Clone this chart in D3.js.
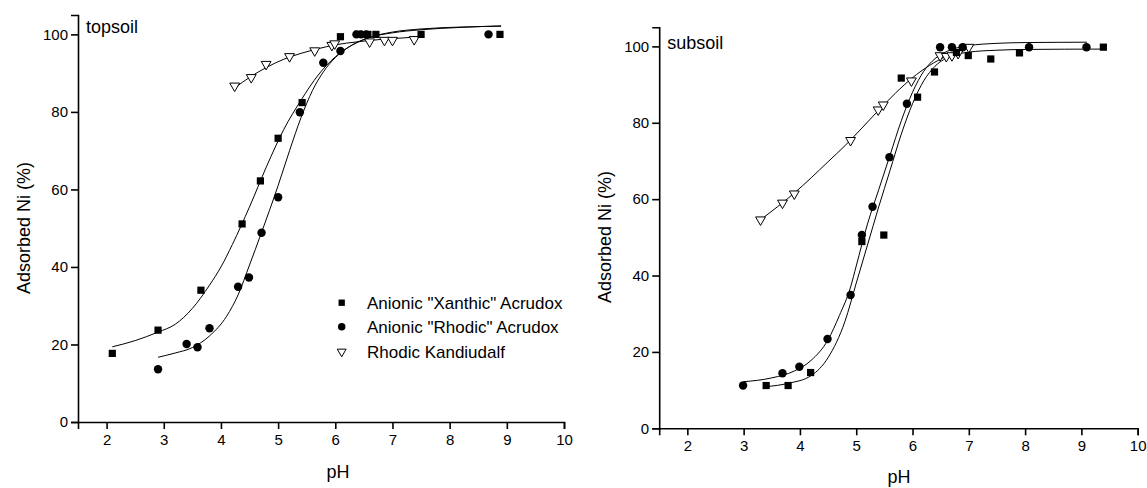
<!DOCTYPE html>
<html><head><meta charset="utf-8">
<script src="https://cdn.jsdelivr.net/npm/d3@7"></script>
<style>
body{margin:0;background:#fff;}
text{font-family:"Liberation Sans",Arial,sans-serif;fill:#000;}
</style></head>
<body><svg id="c" width="1147" height="488"></svg>
<script>
// ---- data ----
const seriesNames = ['Anionic "Xanthic" Acrudox', 'Anionic "Rhodic" Acrudox', 'Rhodic Kandiudalf'];
const xTicks = [2,3,4,5,6,7,8,9,10];
const yTicks = [0,20,40,60,80,100];

// topsoil
const topXanX = [2.1, 2.9, 3.65, 4.37, 4.69, 5.0, 5.42, 6.09, 6.39, 6.57, 6.71, 7.5, 8.88];
const topXanY = [17.7, 23.7, 34.0, 51.1, 62.2, 73.2, 82.4, 99.4, 100, 100, 100, 100, 100];
const topRhoX = [2.9, 3.4, 3.59, 3.8, 4.3, 4.49, 4.71, 5.0, 5.38, 5.79, 6.09, 6.37, 6.45, 6.54, 8.68];
const topRhoY = [13.6, 20.1, 19.3, 24.2, 34.9, 37.3, 48.8, 58.0, 79.9, 92.7, 95.7, 100, 100, 100, 100];
const topKanX = [4.24, 4.53, 4.79, 5.2, 5.64, 5.94, 5.99, 6.6, 6.86, 7.0, 7.38];
const topKanY = [86.7, 88.9, 92.3, 94.3, 95.8, 97.2, 97.6, 98.1, 98.5, 98.5, 98.7];
// fitted curves
const topXanFitX = [2.1, 2.5, 2.9, 3.2, 3.5, 3.8, 4.0, 4.2, 4.5, 4.8, 5.1, 5.4, 5.7, 6.0, 6.3, 6.6, 7.0, 7.5, 8.2, 8.9];
const topXanFitY = [19.4, 21, 23.2, 25.2, 29.3, 35.3, 40, 45.8, 55.5, 66, 75.5, 83, 89.5, 94.2, 97.3, 99.2, 100.6, 101.4, 101.9, 102.1];
const topRhoFitX = [2.9, 3.2, 3.5, 3.8, 4.1, 4.3, 4.5, 4.7, 5.0, 5.2, 5.4, 5.6, 5.8, 6.0, 6.3, 6.6, 7.0, 7.5, 8.2, 8.9];
const topRhoFitY = [16.7, 17.8, 19.2, 22.2, 27.3, 32.8, 40.5, 48.5, 61, 70, 78.5, 85.5, 90.5, 94, 97.3, 99.2, 100.4, 101.2, 101.8, 102.2];
const topKanFitX = [4.25, 4.5, 4.8, 5.1, 5.4, 5.7, 6.0, 6.4, 6.8, 7.2, 7.5];
const topKanFitY = [86.3, 88.9, 91.5, 93.6, 95.1, 96.3, 97.3, 98.1, 98.7, 99.1, 99.4];

// subsoil
const subXanX = [3.4, 3.79, 4.19, 5.1, 5.49, 5.8, 6.09, 6.39, 6.78, 6.99, 7.39, 7.9, 9.39];
const subXanY = [11.2, 11.2, 14.6, 48.9, 50.6, 91.7, 86.7, 93.3, 98.4, 97.6, 96.7, 98.3, 99.8];
const subRhoX = [2.99, 3.69, 3.99, 4.49, 4.9, 5.1, 5.29, 5.59, 5.9, 6.49, 6.7, 6.89, 8.07, 9.09];
const subRhoY = [11.2, 14.4, 16.1, 23.4, 34.9, 50.6, 58.0, 71.0, 85.0, 99.8, 99.8, 99.8, 99.8, 99.8];
const subKanX = [3.3, 3.69, 3.9, 4.9, 5.39, 5.48, 5.98, 6.49, 6.6, 6.7, 6.81, 7.0];
const subKanY = [54.6, 59.0, 61.4, 75.4, 83.4, 84.7, 91.0, 97.6, 97.4, 97.6, 98.2, 99.8];
const subXanFitX = [3.4, 3.8, 4.2, 4.5, 4.8, 5.0, 5.2, 5.4, 5.6, 5.8, 6.0, 6.2, 6.4, 6.7, 7.0, 7.5, 8.0, 9.4];
const subXanFitY = [10.9, 11.8, 13.8, 18.5, 28, 38, 48, 58, 67.5, 77, 85, 91, 94.8, 97.5, 98.5, 99, 99.2, 99.3];
const subRhoFitX = [3.0, 3.5, 3.9, 4.2, 4.5, 4.7, 4.9, 5.0, 5.2, 5.4, 5.6, 5.8, 6.0, 6.2, 6.4, 6.7, 7.0, 7.5, 8.0, 9.1];
const subRhoFitY = [12.2, 13.2, 15.0, 17.8, 23.2, 29.5, 37, 42.5, 53.5, 62.5, 71.5, 80.5, 88, 93.5, 96.8, 99.2, 100.2, 100.8, 101, 101.1];
const subKanFitX = [3.3, 3.6, 3.9, 4.2, 4.5, 4.8, 5.1, 5.4, 5.7, 6.0, 6.3, 6.6, 7.0];
const subKanFitY = [54.6, 58, 61.6, 65.6, 69.8, 74, 78.6, 83.3, 87.8, 91.8, 95, 97.4, 99.5];

const zip = (xs, ys) => xs.map((x, i) => [x, ys[i]]);

const svg = d3.select('#c');

function panel(cfg) {
  const x = d3.scaleLinear().domain([1.5, 10]).range([cfg.x0, cfg.x1]);
  const y = d3.scaleLinear().domain([0, 105]).range([cfg.y0, cfg.y1]);
  const g = svg.append('g');

  const xa = g.append('g').attr('transform', `translate(0,${cfg.y0})`)
    .call(d3.axisBottom(x).tickValues(xTicks).tickFormat(d3.format('d')).tickSizeOuter(0).tickSize(7).tickPadding(5));
  const ya = g.append('g').attr('transform', `translate(${cfg.x0},0)`)
    .call(d3.axisLeft(y).tickValues(yTicks).tickSizeOuter(0).tickSize(7).tickPadding(3));
  [xa, ya].forEach(a => {
    a.select('.domain').attr('stroke', '#000').attr('stroke-width', 1.6);
    a.selectAll('.tick line').attr('stroke', '#000').attr('stroke-width', 1.6);
    a.selectAll('.tick text').style('font-size', '15px').style('font-family', '"Liberation Sans",Arial,sans-serif');
  });

  const line = d3.line().x(d => x(d[0])).y(d => y(d[1])).curve(d3.curveMonotoneX);
  cfg.fits.forEach(f => {
    g.append('path').attr('d', line(f)).attr('fill', 'none').attr('stroke', '#000').attr('stroke-width', 1);
  });

  const sq = d3.symbol().type(d3.symbolSquare).size(52);
  const ci = d3.symbol().type(d3.symbolCircle).size(56);
  const tr = d3.symbol().type(d3.symbolTriangle).size(42);
  g.selectAll('.tri').data(cfg.kan).enter().append('path')
    .attr('d', tr).attr('transform', d => `translate(${x(d[0])},${y(d[1])}) rotate(180)`)
    .attr('fill', '#fff').attr('stroke', '#000').attr('stroke-width', 1);
  g.selectAll('.sq').data(cfg.xan).enter().append('path')
    .attr('d', sq).attr('transform', d => `translate(${x(d[0])},${y(d[1])})`).attr('fill', '#000');
  g.selectAll('.ci').data(cfg.rho).enter().append('path')
    .attr('d', ci).attr('transform', d => `translate(${x(d[0])},${y(d[1])})`).attr('fill', '#000');

  g.append('text').attr('x', cfg.x0 + 8).attr('y', cfg.labelY).style('font-size', '18px').text(cfg.label);
  g.append('text').attr('x', cfg.pHX).attr('y', cfg.pHY).attr('text-anchor', 'middle').style('font-size', '18px').text('pH');
  g.append('text').attr('transform', `translate(${cfg.ylabX},${cfg.ylabY}) rotate(-90)`)
    .attr('text-anchor', 'middle').style('font-size', '18px').text('Adsorbed Ni (%)');
  return {x, y, g};
}

panel({x0: 78, x1: 564, y0: 422, y1: 15, label: 'topsoil', labelY: 33, pHX: 338, pHY: 478, ylabX: 30, ylabY: 228,
  xan: zip(topXanX, topXanY), rho: zip(topRhoX, topRhoY), kan: zip(topKanX, topKanY),
  fits: [zip(topXanFitX, topXanFitY), zip(topRhoFitX, topRhoFitY), zip(topKanFitX, topKanFitY)]});
panel({x0: 659.2, x1: 1137.7, y0: 428.3, y1: 27.3, label: 'subsoil', labelY: 49, pHX: 899, pHY: 483, ylabX: 611, ylabY: 237,
  xan: zip(subXanX, subXanY), rho: zip(subRhoX, subRhoY), kan: zip(subKanX, subKanY),
  fits: [zip(subXanFitX, subXanFitY), zip(subRhoFitX, subRhoFitY), zip(subKanFitX, subKanFitY)]});

// legend
const leg = svg.append('g');
const legY = [302.7, 326.7, 351.7];
const legSyms = [
  d3.symbol().type(d3.symbolSquare).size(40)(),
  d3.symbol().type(d3.symbolCircle).size(44)(),
  d3.symbol().type(d3.symbolTriangle).size(34)()
];
seriesNames.forEach((n, i) => {
  const s = leg.append('path').attr('d', legSyms[i])
    .attr('transform', `translate(341.7,${legY[i]})` + (i === 2 ? ' rotate(180)' : ''));
  if (i === 2) s.attr('fill', '#fff').attr('stroke', '#000').attr('stroke-width', 1);
  else s.attr('fill', '#000');
  leg.append('text').attr('x', 367).attr('y', legY[i] + 6).style('font-size', '17px').text(n);
});
</script></body></html>
